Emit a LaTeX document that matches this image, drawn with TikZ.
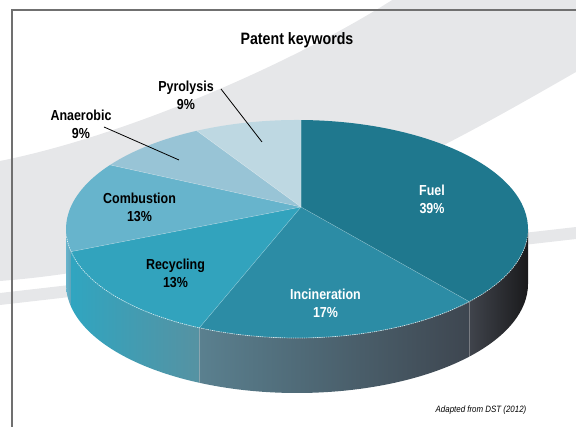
\documentclass[tikz,border=0pt]{standalone}
\usepackage{fontspec}
\newfontfamily\labfont[FakeStretch=0.86]{Liberation Sans}
\definecolor{bandgray}{RGB}{230,231,233}
\definecolor{framec}{RGB}{112,112,112}
\definecolor{cFuel}{RGB}{31,120,142}
\definecolor{cInc}{RGB}{44,140,165}
\definecolor{cRec}{RGB}{50,163,189}
\definecolor{cCom}{RGB}{103,180,204}
\definecolor{cAna}{RGB}{152,196,214}
\definecolor{cPyr}{RGB}{190,216,226}
\definecolor{sRecL}{RGB}{48,165,192}
\definecolor{sRecR}{RGB}{86,146,162}
\definecolor{sIncL}{RGB}{90,128,143}
\definecolor{sIncR}{RGB}{62,70,80}
\definecolor{sFuelL}{RGB}{64,68,76}
\definecolor{sFuelR}{RGB}{26,26,28}
\begin{document}
\begin{tikzpicture}[x=1pt,y=1pt,
  lab/.style={font=\labfont\bfseries\fontsize{14.5}{18}\selectfont, align=center, inner sep=0pt},
  ttl/.style={font=\labfont\bfseries\fontsize{16.5}{19}\selectfont, inner sep=0pt},
  cred/.style={font=\labfont\itshape\fontsize{9.2}{11}\selectfont, inner sep=0pt},
  leader/.style={draw=black, line width=0.8},
  sep/.style={draw=white, draw opacity=0.3, line width=0.5},
  ell/.style={x radius=231, y radius=109}]
\useasboundingbox (0,0) rectangle (576,427);
\begin{scope}
\clip (0,0) rectangle (576,427);
% background swooshes
\fill[bandgray] (0,266) .. controls (130,292) and (300,367) .. (400,432)
  -- (590,432) -- (590,355) -- (576,355)
  .. controls (450,283) and (250,165) .. (0,146) -- cycle;
\fill[bandgray] (0,134) -- (576,200) -- (576,188) -- (0,122) -- cycle;
\end{scope}
% frame
\draw[framec, line width=2] (12,0) -- (12,417) -- (577,417);
% pie geometry
\coordinate (E) at (297,198);
\coordinate (A) at (301,220);
% side walls
\shade[left color=cCom, right color=cCom!90!black] ([shift={(E)}]180:231 and 109)
  arc[start angle=180, end angle=192, ell] -- ++(0,-55)
  arc[start angle=192, end angle=180, ell] -- cycle;
\shade[left color=sRecL, right color=sRecR] ([shift={(E)}]192:231 and 109)
  arc[start angle=192, end angle=245, ell] -- ++(0,-55)
  arc[start angle=245, end angle=192, ell] -- cycle;
\shade[left color=sIncL, right color=sIncR] ([shift={(E)}]245:231 and 109)
  arc[start angle=245, end angle=318.2, ell] -- ++(0,-55)
  arc[start angle=318.2, end angle=245, ell] -- cycle;
\shade[left color=sFuelL, right color=sFuelR] ([shift={(E)}]318.2:231 and 109)
  arc[start angle=318.2, end angle=360, ell] -- ++(0,-55)
  arc[start angle=360, end angle=318.2, ell] -- cycle;
% top slices
\fill[cFuel] (A) -- ([shift={(E)}]89:231 and 109) arc[start angle=89, end angle=-41.8, ell] -- cycle;
\fill[cInc] (A) -- ([shift={(E)}]-41.8:231 and 109) arc[start angle=-41.8, end angle=-115, ell] -- cycle;
\fill[cRec] (A) -- ([shift={(E)}]-115:231 and 109) arc[start angle=-115, end angle=-168, ell] -- cycle;
\fill[cCom] (A) -- ([shift={(E)}]192:231 and 109) arc[start angle=192, end angle=144, ell] -- cycle;
\fill[cAna] (A) -- ([shift={(E)}]144:231 and 109) arc[start angle=144, end angle=115.7, ell] -- cycle;
\fill[cPyr] (A) -- ([shift={(E)}]115.7:231 and 109) arc[start angle=115.7, end angle=89, ell] -- cycle;
% separators
\foreach \t in {89,-41.8,-115,-168,144,115.7}
  \draw[sep] (A) -- ([shift={(E)}]\t:231 and 109);
\foreach \t in {245,318.2}
  \draw[sep] ([shift={(E)}]\t:231 and 109) -- ++(0,-55);
% rim highlight
\draw[white, draw opacity=0.75, line width=0.7, dash pattern=on 1.2pt off 1pt]
  ([shift={(E)}]184:231 and 109) arc[start angle=184, end angle=356, ell];
% labels
\node[ttl] (title) at (297,387) {Patent keywords};
\node[lab] (pyl) at (186,331.5) {Pyrolysis\\9\%};
\node[lab] (anl) at (81,303) {Anaerobic\\9\%};
\node[lab] (col) at (139.5,219.5) {Combustion\\13\%};
\node[lab] (rel) at (175.5,154) {Recycling\\13\%};
\node[lab, text=white] (inl) at (325.5,124) {Incineration\\17\%};
\node[lab, text=white] (ful) at (432,228) {Fuel\\39\%};
\node[cred] (credit) at (481,17) {Adapted from DST (2012)};
% leaders
\coordinate (pyA) at (221,338);
\coordinate (pyB) at (262,285);
\coordinate (anA) at (104,300);
\coordinate (anB) at (179,267);
\draw[leader] (pyA) -- (pyB);
\draw[leader] (anA) -- (anB);
\end{tikzpicture}
\end{document}
